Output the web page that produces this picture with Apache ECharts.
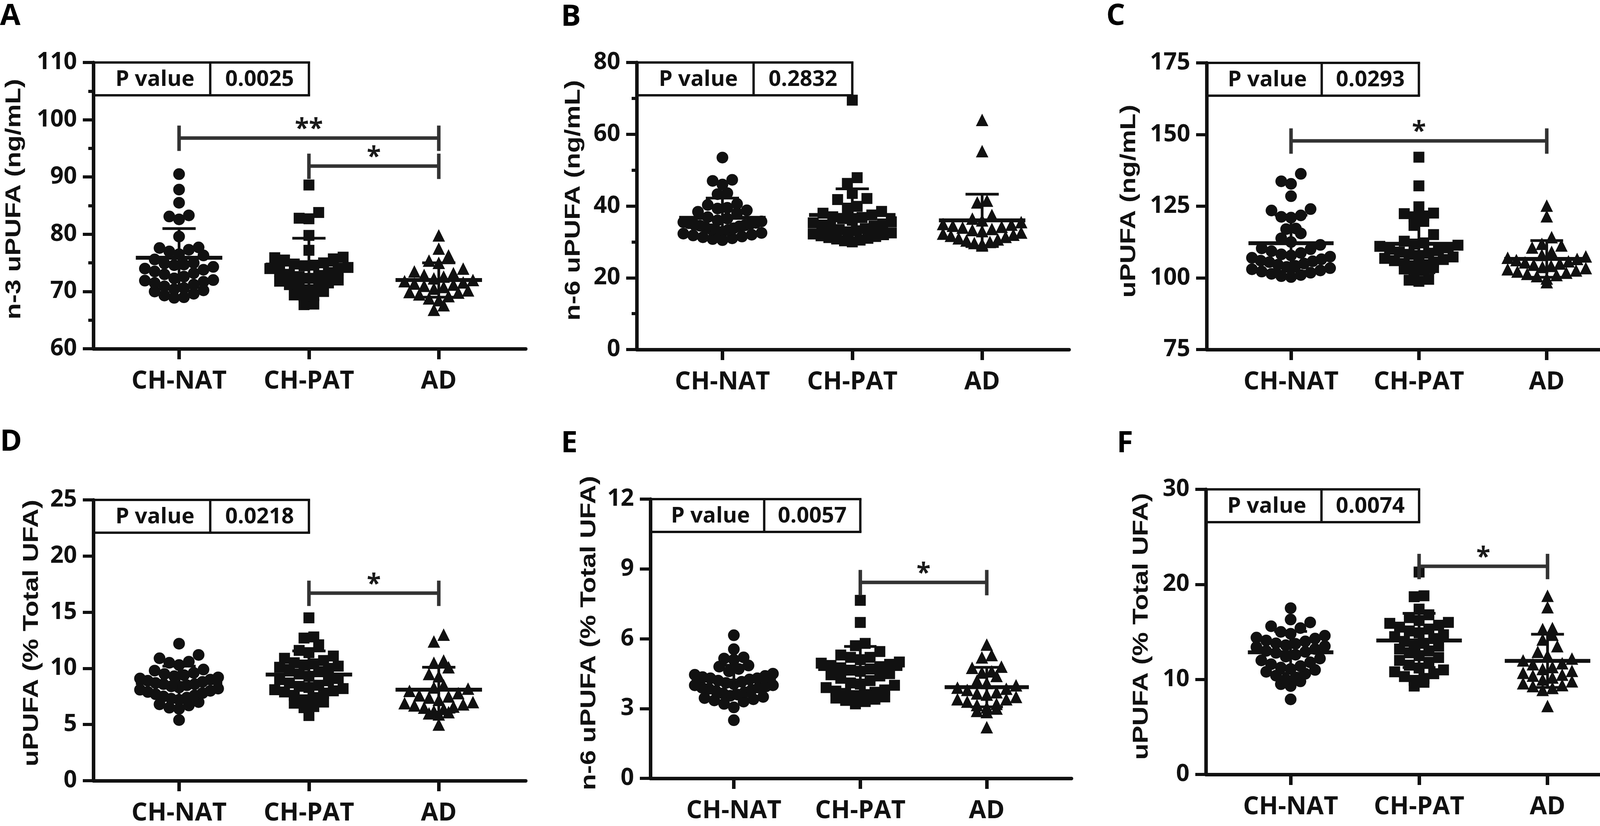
<!DOCTYPE html>
<html>
<head>
<meta charset="utf-8">
<title>uPUFA panels</title>
<script src="https://cdn.jsdelivr.net/npm/echarts/dist/echarts.min.js"></script>
<style>
  html, body { margin: 0; padding: 0; background: #fff; }
  #chart { width: 4212px; height: 2115px; }
</style>
</head>
<body>
<div id="chart"></div>
<script>
// ---- data ----
var categories = ['CH-NAT', 'CH-PAT', 'AD'];
var panelLetters = ['A', 'B', 'C', 'D', 'E', 'F'];
var yNames = ['n-3 uPUFA (ng/mL)', 'n-6 uPUFA (ng/mL)', 'uPUFA (ng/mL)',
  'uPUFA (% Total UFA)', 'n-6 uPUFA (% Total UFA)', 'uPUFA (% Total UFA)'];
var yMin = [60, 0, 75, 0, 0, 0];
var yMax = [110, 80, 175, 25, 12, 30];
var yInterval = [10, 20, 25, 5, 3, 10];
var yMinor = [true, true, false, false, false, false];
var pValues = ['0.0025', '0.2832', '0.0293', '0.0218', '0.0057', '0.0074'];

var aNat = [90.5, 87.8, 85.5, 83.3, 83.1, 82.6, 79.6, 77.7, 77.6, 77.3, 77.0, 76.5, 76.3, 75.6, 75.0, 74.9, 74.7, 74.6, 74.3, 74.0, 73.8, 73.5, 73.2, 73.0, 72.6, 72.3, 72.0, 71.9, 71.7, 71.5, 71.2, 70.9, 70.6, 70.4, 70.2, 70.0, 69.6, 69.3, 69.0, 68.9];
var aPat = [88.6, 83.8, 82.8, 82.7, 79.8, 77.2, 76.0, 75.9, 75.7, 75.5, 75.0, 74.8, 74.6, 74.5, 74.2, 74.0, 73.8, 73.5, 73.3, 73.0, 72.8, 72.6, 72.3, 72.0, 71.8, 71.5, 71.2, 71.0, 70.8, 70.3, 70.0, 69.4, 69.3, 69.2, 67.8, 67.7];
var aAd = [79.8, 77.5, 76.3, 75.4, 75.0, 74.0, 73.5, 73.2, 72.9, 72.6, 72.3, 72.0, 71.8, 71.6, 71.4, 71.2, 71.0, 70.8, 70.5, 70.2, 69.9, 69.8, 69.5, 69.2, 68.8, 68.5, 67.6, 66.8];
var aMean = [75.9, 74.7, 72.0];
var aSd = [5.1, 4.6, 3.0];
var aBrackets = [[1, 3, 96.8, '**'], [2, 3, 91.9, '*']];

var bNat = [53.5, 47.3, 47.0, 46.0, 43.6, 43.3, 40.6, 40.3, 39.5, 39.3, 38.8, 38.4, 38.0, 36.9, 36.5, 36.0, 35.7, 35.5, 35.3, 35.2, 35.0, 34.8, 34.6, 34.5, 34.3, 34.0, 33.8, 33.5, 33.3, 33.0, 32.8, 32.5, 32.3, 32.0, 31.8, 31.5, 31.3, 31.0, 30.8, 30.5];
var bPat = [69.5, 47.9, 46.3, 43.5, 42.1, 41.8, 39.9, 39.4, 38.5, 38.0, 37.5, 37.0, 36.8, 36.5, 36.0, 35.6, 35.3, 35.0, 34.7, 34.4, 34.0, 33.7, 33.4, 33.1, 32.8, 32.5, 32.2, 32.0, 31.7, 31.5, 31.2, 31.0, 30.8, 30.5, 30.3, 30.0];
var bAd = [64.0, 55.3, 41.5, 41.0, 37.5, 36.5, 36.0, 35.5, 35.0, 34.8, 34.5, 34.2, 34.0, 33.6, 33.3, 33.0, 32.6, 32.3, 32.0, 31.7, 31.4, 31.0, 30.7, 30.4, 30.0, 29.7, 29.4, 29.0];
var bMean = [36.7, 37.5, 36.0];
var bSd = [5.5, 7.3, 7.3];
var bBrackets = [];

var cNat = [136.3, 133.7, 132.8, 128.5, 124.0, 123.5, 121.8, 121.3, 121.0, 117.2, 117.0, 115.5, 113.8, 112.5, 111.5, 110.3, 110.0, 109.3, 108.7, 108.2, 107.8, 107.4, 107.0, 106.5, 106.0, 105.8, 105.5, 105.0, 104.6, 104.2, 103.8, 103.4, 103.0, 102.6, 102.2, 101.8, 101.4, 101.0, 100.6, 100.3];
var cPat = [142.1, 132.1, 124.8, 122.6, 122.4, 121.6, 121.3, 119.7, 118.3, 115.1, 112.8, 112.2, 111.8, 111.4, 111.0, 110.5, 110.0, 109.5, 109.0, 108.6, 108.2, 107.8, 107.3, 106.8, 106.4, 106.0, 105.5, 105.0, 104.6, 104.2, 103.6, 103.1, 102.6, 101.5, 99.5, 99.2, 98.8];
var cAd = [125.2, 121.5, 114.2, 111.9, 111.3, 110.6, 109.1, 108.0, 107.5, 107.0, 106.6, 106.2, 105.8, 105.4, 105.0, 104.6, 104.2, 103.8, 103.4, 103.0, 102.6, 102.2, 101.8, 101.4, 101.0, 100.6, 99.8, 98.5];
var cMean = [112.1, 111.9, 106.6];
var cSd = [9.8, 10.1, 6.4];
var cBrackets = [[1, 3, 147.8, '*']];

var dNat = [12.2, 11.2, 10.9, 10.6, 10.5, 10.3, 9.9, 9.8, 9.6, 9.5, 9.4, 9.3, 9.2, 9.1, 9.0, 8.9, 8.8, 8.7, 8.6, 8.6, 8.5, 8.4, 8.3, 8.2, 8.1, 8.0, 7.9, 7.8, 7.7, 7.6, 7.5, 7.4, 7.3, 7.2, 7.0, 6.8, 6.7, 6.5, 6.4, 5.4];
var dPat = [14.5, 12.8, 12.7, 12.1, 11.6, 11.4, 11.1, 10.9, 10.7, 10.5, 10.4, 10.3, 10.2, 10.1, 10.0, 9.9, 9.7, 9.5, 9.3, 9.1, 9.0, 8.9, 8.7, 8.5, 8.4, 8.3, 8.2, 8.1, 8.0, 7.9, 7.8, 7.6, 7.4, 7.2, 7.0, 6.9, 6.6, 6.5, 5.8];
var dAd = [13.0, 12.4, 10.7, 10.5, 10.1, 9.5, 9.3, 8.5, 8.3, 8.2, 8.0, 7.8, 7.6, 7.5, 7.4, 7.2, 7.0, 6.9, 6.8, 6.7, 6.6, 6.5, 6.4, 6.2, 6.1, 6.0, 5.9, 5.0];
var dMean = [8.7, 9.45, 8.1];
var dSd = [1.5, 2.1, 2.0];
var dBrackets = [[2, 3, 16.7, '*']];

var eNat = [6.15, 5.55, 5.2, 5.15, 5.1, 4.85, 4.8, 4.7, 4.6, 4.5, 4.45, 4.4, 4.35, 4.3, 4.3, 4.25, 4.2, 4.15, 4.1, 4.05, 4.0, 4.0, 3.95, 3.9, 3.9, 3.85, 3.8, 3.75, 3.7, 3.65, 3.6, 3.55, 3.5, 3.45, 3.4, 3.35, 3.3, 3.2, 3.05, 2.5];
var ePat = [7.65, 6.7, 5.8, 5.7, 5.45, 5.3, 5.2, 5.2, 5.1, 5.0, 4.95, 4.9, 4.85, 4.8, 4.75, 4.7, 4.65, 4.6, 4.5, 4.45, 4.4, 4.3, 4.2, 4.1, 4.05, 4.0, 3.9, 3.8, 3.75, 3.7, 3.65, 3.6, 3.55, 3.5, 3.45, 3.4, 3.35, 3.3, 3.2];
var eAd = [5.75, 5.3, 5.2, 4.8, 4.75, 4.6, 4.55, 4.4, 4.2, 4.1, 4.0, 3.9, 3.85, 3.8, 3.7, 3.65, 3.6, 3.5, 3.4, 3.4, 3.3, 3.2, 3.15, 3.05, 3.0, 2.9, 2.85, 2.2];
var eMean = [4.2, 4.7, 3.92];
var eSd = [0.66, 0.97, 0.85];
var eBrackets = [[2, 3, 8.42, '*']];

var fNat = [17.5, 16.3, 16.0, 15.6, 15.4, 15.0, 14.8, 14.6, 14.4, 14.3, 14.1, 14.0, 13.8, 13.75, 13.6, 13.5, 13.4, 13.2, 13.0, 12.9, 12.8, 12.6, 12.4, 12.2, 12.0, 11.8, 11.6, 11.4, 11.25, 11.1, 11.0, 10.8, 10.6, 10.4, 10.2, 10.0, 9.8, 9.5, 9.3, 7.9];
var fPat = [21.3, 18.8, 18.7, 17.4, 16.8, 16.5, 16.2, 16.0, 15.9, 15.7, 15.5, 15.3, 15.1, 14.9, 14.7, 14.5, 14.3, 14.0, 13.8, 13.6, 13.5, 13.2, 13.0, 12.8, 12.5, 12.3, 12.0, 11.8, 11.5, 11.2, 11.0, 10.8, 10.6, 10.3, 10.1, 9.9, 9.7, 9.3];
var fAd = [18.8, 17.6, 15.4, 15.3, 14.7, 14.2, 13.5, 12.9, 12.5, 12.2, 12.0, 11.7, 11.6, 11.3, 11.1, 10.9, 10.7, 10.5, 10.4, 10.2, 10.0, 9.8, 9.6, 9.4, 9.3, 9.1, 8.9, 7.2];
var fMean = [12.85, 14.1, 11.95];
var fSd = [2.2, 2.85, 2.8];
var fBrackets = [[2, 3, 21.9, '*']];

var groupValues = [[aNat, aPat, aAd], [bNat, bPat, bAd], [cNat, cPat, cAd],
  [dNat, dPat, dAd], [eNat, ePat, eAd], [fNat, fPat, fAd]];
var groupMeans = [aMean, bMean, cMean, dMean, eMean, fMean];
var groupSds = [aSd, bSd, cSd, dSd, eSd, fSd];
var brackets = [aBrackets, bBrackets, cBrackets, dBrackets, eBrackets, fBrackets];

// ---- layout ----
var X_MIN = 0.34, X_MAX = 3.67;
var BOX_DIV_X = 1.24, BOX_RIGHT_X = 2.0, BOX_H = 84;
var grids = [
  { left: 239, top: 160, width: 1107, height: 733 },
  { left: 1630, top: 160, width: 1107, height: 735 },
  { left: 3089, top: 161, width: 1090, height: 734 },
  { left: 239, top: 1280, width: 1107, height: 730 },
  { left: 1665, top: 1278, width: 1078, height: 715 },
  { left: 3087, top: 1253, width: 1095, height: 730 }
];
// y titles: the figure is stretched vertically, so the rotated titles are drawn stretched too
var titleAnchor = [[64, 510], [1496, 513], [2918, 515], [109, 1621], [1536, 1621], [2950, 1604]];
var TITLE_SIZE = 55, TITLE_LEN_A = 616;
var letterPos = [[0, 42], [1436, 44], [2832, 42], [0, 1132], [1436, 1136], [2859, 1136]];
var symbols = ['circle', 'rect', 'triangle'];
var symbolSizes = [30, 28, 32];

var NUM_FONT = '"Open Sans", "Noto Sans", sans-serif';
var NAME_FONT = '"Liberation Sans", Arial, Helvetica, sans-serif';
var INK = '#111';

var measureCtx = document.createElement('canvas').getContext('2d');
measureCtx.font = 'bold ' + TITLE_SIZE + 'px ' + NAME_FONT;
var TITLE_STRETCH = TITLE_LEN_A / measureCtx.measureText(yNames[0]).width;

// GraphPad-like column scatter: bin rows, lowest values in the middle
function swarm(values, center, pxX, pxY, lo) {
  var rowH = 30, dx = 25, maxHalf = 100;
  var bins = {};
  values.forEach(function (v) {
    var b = Math.floor((v - lo) * pxY / rowH);
    (bins[b] = bins[b] || []).push(v);
  });
  var out = [];
  Object.keys(bins).forEach(function (k) {
    var vs = bins[k].slice().sort(function (a, b) { return a - b; });
    var n = vs.length;
    var step = n > 1 ? Math.min(dx, 2 * maxHalf / (n - 1)) : 0;
    var slots = [];
    for (var j = 0; j < n; j++) slots.push((j - (n - 1) / 2) * step);
    slots.sort(function (a, b) { return Math.abs(a) - Math.abs(b) || a - b; });
    vs.forEach(function (v, j) { out.push([center + slots[j] / pxX, v]); });
  });
  return out;
}

function line(x1, y1, x2, y2, w, color) {
  return { type: 'line', shape: { x1: x1, y1: y1, x2: x2, y2: y2 },
    style: { stroke: color || INK, lineWidth: w } };
}

function errorBarItem(params, api) {
  var x = api.value(0), m = api.value(1), s = api.value(2);
  var c = api.coord([x, m]);
  var t = api.coord([x, m + s]);
  var b = api.coord([x, m - s]);
  var hw = api.size([0.333, 0])[0];
  var cw = api.size([0.128, 0])[0];
  return { type: 'group', children: [
    line(c[0] - hw, c[1], c[0] + hw, c[1], 10),
    line(c[0], t[1], c[0], b[1], 7),
    line(c[0] - cw, t[1], c[0] + cw, t[1], 7),
    line(c[0] - cw, b[1], c[0] + cw, b[1], 7)
  ] };
}

function bracketRenderer(list) {
  return function (params, api) {
    var br = list[params.dataIndex];
    var p1 = api.coord([br[0], br[2]]);
    var p2 = api.coord([br[1], br[2]]);
    var col = '#333';
    return { type: 'group', children: [
      line(p1[0], p1[1], p2[0], p2[1], 9, col),
      line(p1[0], p1[1] - 32, p1[0], p1[1] + 33, 9, col),
      line(p2[0], p2[1] - 32, p2[0], p2[1] + 33, 9, col),
      { type: 'text', x: (p1[0] + p2[0]) / 2, y: p1[1] - 21,
        style: { text: br[3], fontSize: 66, fontWeight: 'bold', fontFamily: NUM_FONT,
          fill: '#1a1a1a', align: 'center', verticalAlign: 'middle' } }
    ] };
  };
}

function boxRenderer(i) {
  return function (params, api) {
    var tl = api.coord([X_MIN, yMax[i]]);
    var dv = api.coord([BOX_DIV_X, yMax[i]]);
    var rt = api.coord([BOX_RIGHT_X, yMax[i]]);
    var x0 = tl[0], y0 = tl[1], xd = dv[0], x1 = rt[0], y1 = y0 + BOX_H;
    var txt = { fontSize: 56, fontWeight: 'bold', fontFamily: NUM_FONT, fill: INK,
      align: 'center', verticalAlign: 'middle' };
    return { type: 'group', children: [
      line(x0, y0, x1 + 3, y0, 6),
      line(x1, y0, x1, y1, 6),
      line(x0, y1, x1 + 3, y1, 6),
      line(xd, y0, xd, y1, 6),
      { type: 'text', x: (x0 + xd) / 2 + 8, y: (y0 + y1) / 2 + 2,
        style: Object.assign({ text: 'P value' }, txt) },
      { type: 'text', x: (xd + x1) / 2, y: (y0 + y1) / 2 + 2,
        style: Object.assign({ text: pValues[i] }, txt) }
    ] };
  };
}

var option = {
  backgroundColor: '#fff',
  animation: false,
  grid: [],
  xAxis: [],
  yAxis: [],
  series: [],
  graphic: []
};

for (var i = 0; i < 6; i++) {
  var g = grids[i];
  option.grid.push({ left: g.left, top: g.top, width: g.width, height: g.height, containLabel: false });
  option.xAxis.push({
    type: 'value', gridIndex: i, min: X_MIN, max: X_MAX,
    axisLine: { onZero: false, lineStyle: { color: INK, width: 9 } },
    axisTick: { show: true, customValues: [1, 2, 3], length: 27, lineStyle: { color: INK, width: 9 } },
    axisLabel: {
      customValues: [1, 2, 3], margin: 52, fontSize: 64, fontWeight: 'bold',
      fontFamily: NUM_FONT, color: INK,
      formatter: function (v) { return categories[Math.round(v) - 1] || ''; }
    },
    splitLine: { show: false }
  });
  option.yAxis.push({
    type: 'value', gridIndex: i, min: yMin[i], max: yMax[i], interval: yInterval[i],
    axisLine: { show: true, onZero: false, lineStyle: { color: INK, width: 9 } },
    axisTick: { show: true, length: 27, lineStyle: { color: INK, width: 8 } },
    minorTick: { show: yMinor[i], splitNumber: 2, length: 13, lineStyle: { color: INK, width: 8 } },
    axisLabel: { margin: 42, fontSize: 60, fontWeight: 'bold', fontFamily: NUM_FONT, color: INK },
    splitLine: { show: false }
  });

  var pxX = g.width / (X_MAX - X_MIN);
  var pxY = g.height / (yMax[i] - yMin[i]);
  for (var k = 0; k < 3; k++) {
    option.series.push({
      type: 'scatter', xAxisIndex: i, yAxisIndex: i,
      symbol: symbols[k], symbolSize: symbolSizes[k],
      itemStyle: { color: INK, opacity: 1 },
      data: swarm(groupValues[i][k], k + 1, pxX, pxY, yMin[i]),
      silent: true, z: 2
    });
  }
  option.series.push({
    type: 'custom', xAxisIndex: i, yAxisIndex: i, clip: false, silent: true, z: 3,
    renderItem: errorBarItem,
    data: groupMeans[i].map(function (m, j) { return [j + 1, m, groupSds[i][j]]; })
  });
  if (brackets[i].length) {
    option.series.push({
      type: 'custom', xAxisIndex: i, yAxisIndex: i, clip: false, silent: true, z: 3,
      renderItem: bracketRenderer(brackets[i]),
      data: brackets[i].map(function (b) { return [b[0], b[2]]; })
    });
  }
  option.series.push({
    type: 'custom', xAxisIndex: i, yAxisIndex: i, clip: false, silent: true, z: 4,
    renderItem: boxRenderer(i),
    data: [[X_MIN, yMax[i]]]
  });
  option.graphic.push({
    type: 'text', x: titleAnchor[i][0], y: titleAnchor[i][1],
    rotation: Math.PI / 2, scaleX: TITLE_STRETCH, scaleY: 1,
    style: { text: yNames[i], fontSize: TITLE_SIZE, fontWeight: 'bold', fontFamily: NAME_FONT,
      fill: INK, align: 'center', verticalAlign: 'bottom' }
  });
  option.graphic.push({
    type: 'text', x: letterPos[i][0], y: letterPos[i][1],
    style: { text: panelLetters[i], fontSize: 76, fontWeight: 'bold', fontFamily: NUM_FONT,
      fill: '#000', verticalAlign: 'middle' }
  });
}

var chart = echarts.init(document.getElementById('chart'), null, { renderer: 'canvas' });
chart.setOption(option);
</script>
</body>
</html>
